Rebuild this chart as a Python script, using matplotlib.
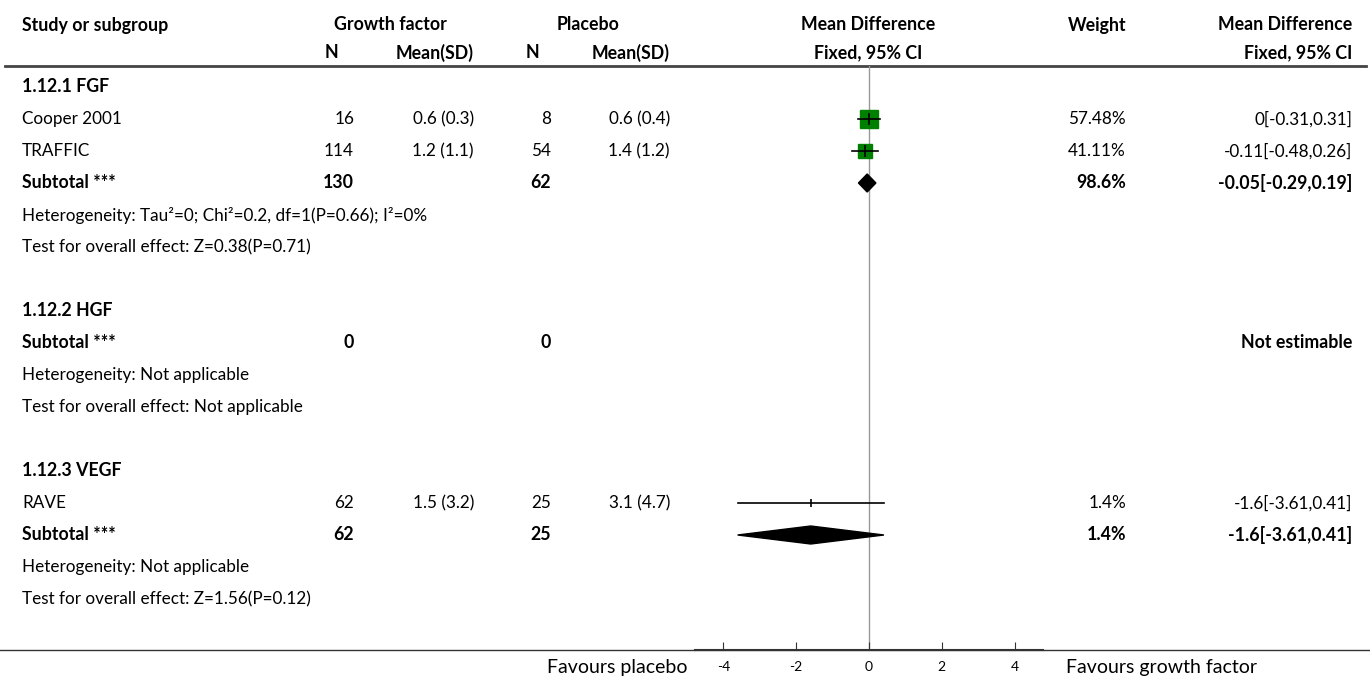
import numpy as np
import matplotlib.pyplot as plt

plt.rcParams['font.family'] = ['Lato', 'DejaVu Sans']

# study level data
studies = ["Cooper 2001", "TRAFFIC", "RAVE"]
study_group = [0, 0, 2]
gf_n = [16, 114, 62]
gf_mean = [0.6, 1.2, 1.5]
gf_sd = [0.3, 1.1, 3.2]
pl_n = [8, 54, 25]
pl_mean = [0.6, 1.4, 3.1]
pl_sd = [0.4, 1.2, 4.7]
md = [0, -0.11, -1.6]
md_lo = [-0.31, -0.48, -3.61]
md_hi = [0.31, 0.26, 0.41]
weight = [57.48, 41.11, 1.4]

# subgroup data
groups = ["1.12.1 FGF", "1.12.2 HGF", "1.12.3 VEGF"]
sub_gf_n = [130, 0, 62]
sub_pl_n = [62, 0, 25]
sub_md = [-0.05, None, -1.6]
sub_lo = [-0.29, None, -3.61]
sub_hi = [0.19, None, 0.41]
sub_weight = [98.6, None, 1.4]
heterogeneity = ["Heterogeneity: Tau\u00b2=0; Chi\u00b2=0.2, df=1(P=0.66); I\u00b2=0%",
                 "Heterogeneity: Not applicable",
                 "Heterogeneity: Not applicable"]
overall = ["Test for overall effect: Z=0.38(P=0.71)",
           "Test for overall effect: Not applicable",
           "Test for overall effect: Z=1.56(P=0.12)"]

ticks = [-4, -2, 0, 2, 4]

FS = 12.3
FSB = 12.8
Y0, DY = 87, 32  # first row and row spacing, in pixels

fig = plt.figure(figsize=(13.7, 6.79), dpi=100)
tab = fig.add_axes([0, 0, 1, 1])
tab.set_xlim(0, 1370)
tab.set_ylim(679, 0)
tab.axis('off')

fa = fig.add_axes([695 / 1370, (679 - 650) / 679, (1043 - 695) / 1370, (650 - 66) / 679])
fa.set_xlim(-4.78, 4.78)
fa.set_ylim(650, 66)
fa.patch.set_alpha(0)


def txt(x, y, s, ha='left', bold=False, size=None):
    if size is None:
        size = FSB if bold else FS
    tab.text(x, y, s, ha=ha, va='center', fontsize=size,
             fontweight='bold' if bold else 'normal', color='black')


# header
txt(22, 25, "Study or subgroup", bold=True)
txt(390, 25, "Growth factor", ha='center', bold=True)
txt(588, 25, "Placebo", ha='center', bold=True)
txt(868, 25, "Mean Difference", ha='center', bold=True)
txt(1126, 25, "Weight", ha='right', bold=True)
txt(1352, 25, "Mean Difference", ha='right', bold=True)
txt(331, 53, "N", ha='center', bold=True)
txt(474, 53, "Mean(SD)", ha='right', bold=True)
txt(532, 53, "N", ha='center', bold=True)
txt(670, 53, "Mean(SD)", ha='right', bold=True)
txt(868, 53, "Fixed, 95% CI", ha='center', bold=True)
txt(1352, 53, "Fixed, 95% CI", ha='right', bold=True)
tab.plot([5, 1366], [66, 66], color='#444444', lw=2)

row = 0
for g in range(len(groups)):
    y = Y0 + DY * row
    txt(22, y, groups[g], bold=True)
    row += 1
    for i in range(len(studies)):
        if study_group[i] != g:
            continue
        y = Y0 + DY * row
        txt(22, y, studies[i])
        txt(354, y, f"{gf_n[i]}", ha='right')
        txt(474, y, f"{gf_mean[i]:g} ({gf_sd[i]:g})", ha='right')
        txt(551, y, f"{pl_n[i]}", ha='right')
        txt(670, y, f"{pl_mean[i]:g} ({pl_sd[i]:g})", ha='right')
        txt(1126, y, f"{weight[i]:g}%", ha='right')
        txt(1352, y, f"{md[i]:g}[{md_lo[i]:g},{md_hi[i]:g}]", ha='right')
        side = weight[i] * 0.33 * 0.72
        if side > 1:
            fa.plot(md[i], y, marker='s', ms=side, color='#008000', mec='#008000', zorder=2)
        fa.plot([md_lo[i], md_hi[i]], [y, y], color='black', lw=1.2, zorder=3)
        fa.plot(md[i], y, marker='|', ms=8 if side > 1 else 6, color='black', mew=1.2, zorder=4)
        row += 1
    y = Y0 + DY * row
    txt(22, y, "Subtotal ***", bold=True)
    txt(354, y, f"{sub_gf_n[g]}", ha='right', bold=True)
    txt(551, y, f"{sub_pl_n[g]}", ha='right', bold=True)
    if sub_md[g] is None:
        txt(1352, y, "Not estimable", ha='right', bold=True)
    else:
        txt(1126, y, f"{sub_weight[g]:g}%", ha='right', bold=True)
        txt(1352, y, f"{sub_md[g]:g}[{sub_lo[g]:g},{sub_hi[g]:g}]", ha='right', bold=True)
        h = 9
        fa.fill([sub_lo[g], sub_md[g], sub_hi[g], sub_md[g]], [y, y - h, y, y + h],
                color='black', zorder=3)
    row += 1
    txt(22, Y0 + DY * row, heterogeneity[g])
    row += 1
    txt(22, Y0 + DY * row, overall[g])
    row += 2

# forest axis
fa.axvline(0, color='#999999', lw=1, zorder=1)
for s in ['top', 'right', 'left']:
    fa.spines[s].set_visible(False)
fa.spines['bottom'].set_color('#333333')
fa.spines['bottom'].set_linewidth(1.5)
fa.set_yticks([])
fa.set_xticks(ticks)
fa.set_xticklabels([f"{t}" for t in ticks])
fa.tick_params(axis='x', direction='in', length=6, width=0.8, color='#333333',
               labelsize=10, pad=8)
tab.plot([0, 1370], [650, 650], color='#333333', lw=1, zorder=0)

txt(688, 667, "Favours placebo", ha='right', size=14)
txt(1066, 667, "Favours growth factor", size=14)

fig.savefig("out.png", dpi=100)
